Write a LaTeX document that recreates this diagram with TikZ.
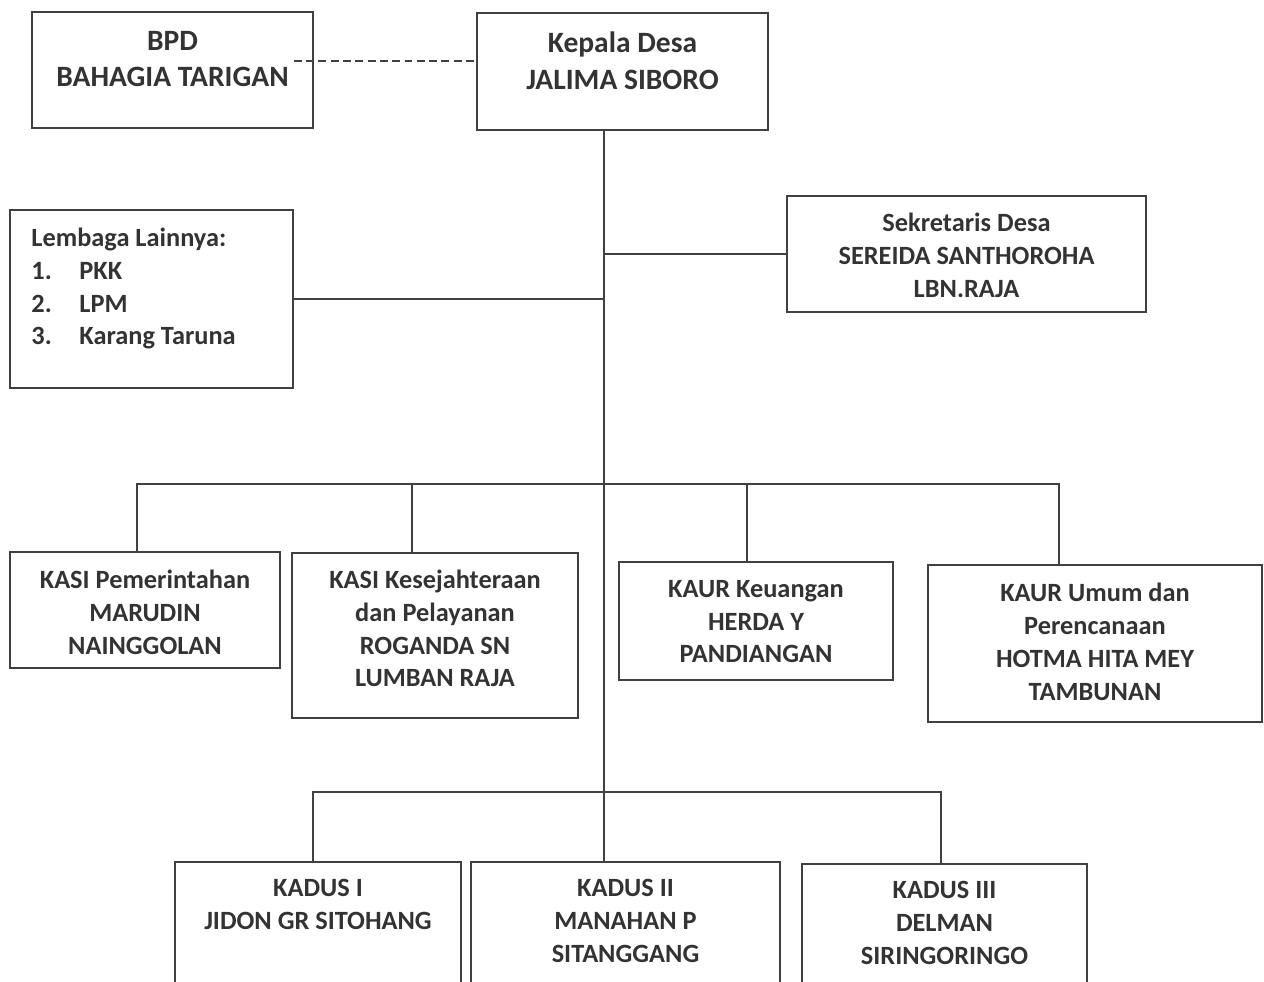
\documentclass[tikz,border=0pt]{standalone}
\usepackage{fontspec}
\setmainfont{Carlito}
\usetikzlibrary{positioning,fit,calc}

\tikzset{
  orgbox/.style={draw=black!75, line width=1pt, inner sep=0pt},
  orgtext/.style={font=\bfseries\fontsize{15}{18.6}\selectfont, text=black!80,
    align=center, inner sep=0pt},
  toptext/.style={orgtext, font=\bfseries\fontsize{16.8}{20.9}\selectfont},
  link/.style={draw=black!75, line width=1pt}
}

\begin{document}
\begin{tikzpicture}[x=0.02cm, y=-0.02cm]
    \clip (0,0) rectangle (1264,982);

    % Boxes
    \node[orgbox, fit={(32,12) (313,128)}] (bpd) {};
    \node[orgbox, fit={(477,13) (768,130)}] (kades) {};
    \node[orgbox, fit={(10,210) (293,388)}] (lembaga) {};
    \node[orgbox, fit={(787,196) (1146,312)}] (sekdes) {};
    \node[orgbox, fit={(10,552) (280,668)}] (kasipem) {};
    \node[orgbox, fit={(292,553) (578,718)}] (kasikes) {};
    \node[orgbox, fit={(619,562) (893,680)}] (kaurkeu) {};
    \node[orgbox, fit={(928,565) (1262,722)}] (kaurumum) {};
    \node[orgbox, fit={(175,862) (461,1010)}] (kadus1) {};
    \node[orgbox, fit={(471,862) (780,1010)}] (kadus2) {};
    \node[orgbox, fit={(802,864) (1087,1010)}] (kadus3) {};

    % Texts
    \node[toptext, below=0.39cm of bpd.north] (bpd-txt) {BPD\\BAHAGIA TARIGAN};
    \node[toptext, below=0.39cm of kades.north] (kades-txt) {Kepala Desa\\JALIMA SIBORO};
    \node[orgtext, below=0.36cm of sekdes.north] (sekdes-txt)
        {Sekretaris Desa\\SEREIDA SANTHOROHA\\LBN.RAJA};
    \node[orgtext, align=left, anchor=north west] (lembaga-txt)
        at ($(lembaga.north west)+(22,19)$)
        {Lembaga Lainnya:\\
         \makebox[0.96cm][l]{1.}PKK\\
         \makebox[0.96cm][l]{2.}LPM\\
         \makebox[0.96cm][l]{3.}Karang Taruna};
    \node[orgtext, below=0.38cm of kasipem.north] (kasipem-txt)
        {KASI Pemerintahan\\MARUDIN\\NAINGGOLAN};
    \node[orgtext, below=0.36cm of kasikes.north] (kasikes-txt)
        {KASI Kesejahteraan\\dan Pelayanan\\ROGANDA SN\\LUMBAN RAJA};
    \node[orgtext, below=0.38cm of kaurkeu.north] (kaurkeu-txt)
        {KAUR Keuangan\\HERDA Y\\PANDIANGAN};
    \node[orgtext, below=0.38cm of kaurumum.north] (kaurumum-txt)
        {KAUR Umum dan\\Perencanaan\\HOTMA HITA MEY\\TAMBUNAN};
    \node[orgtext, below=0.36cm of kadus1.north] (kadus1-txt) {KADUS I\\JIDON GR SITOHANG};
    \node[orgtext, below=0.36cm of kadus2.north] (kadus2-txt) {KADUS II\\MANAHAN P\\SITANGGANG};
    \node[orgtext, below=0.36cm of kadus3.north] (kadus3-txt) {KADUS III\\DELMAN\\SIRINGORINGO};

    % Trunk, bus points and drop points
    \coordinate (trunk) at (604,130);
    \coordinate (busA) at (604,484);
    \coordinate (busB) at (604,792);
    \coordinate (dash-l) at ($(bpd.east)+(-20,-9)$);
    \coordinate (drop-kasipem) at ($(kasipem.north west)+(128,0)$);
    \coordinate (drop-kasikes) at ($(kasikes.north west)+(121,0)$);
    \coordinate (drop-kaurkeu) at ($(kaurkeu.north west)+(129,0)$);
    \coordinate (drop-kaurumum) at ($(kaurumum.north west)+(132,0)$);
    \coordinate (drop-kadus1) at ($(kadus1.north west)+(139,0)$);
    \coordinate (drop-kadus3) at ($(kadus3.north west)+(140,0)$);

    % Connectors
    \draw[link, dash pattern=on 4.5pt off 2.5pt] (dash-l) -- (dash-l -| kades.west);
    \draw[link] (kades.south -| trunk) -- (trunk |- kadus2.north);
    \draw[link] (sekdes.west) -- (sekdes.west -| trunk);
    \draw[link] (lembaga.east) -- (lembaga.east -| trunk);

    \draw[link] (drop-kasipem) |- (busA);
    \draw[link] (drop-kasikes) -- (drop-kasikes |- busA);
    \draw[link] (drop-kaurkeu) -- (drop-kaurkeu |- busA);
    \draw[link] (drop-kaurumum) |- (busA);

    \draw[link] (drop-kadus1) |- (busB);
    \draw[link] (drop-kadus3) |- (busB);
\end{tikzpicture}
\end{document}
